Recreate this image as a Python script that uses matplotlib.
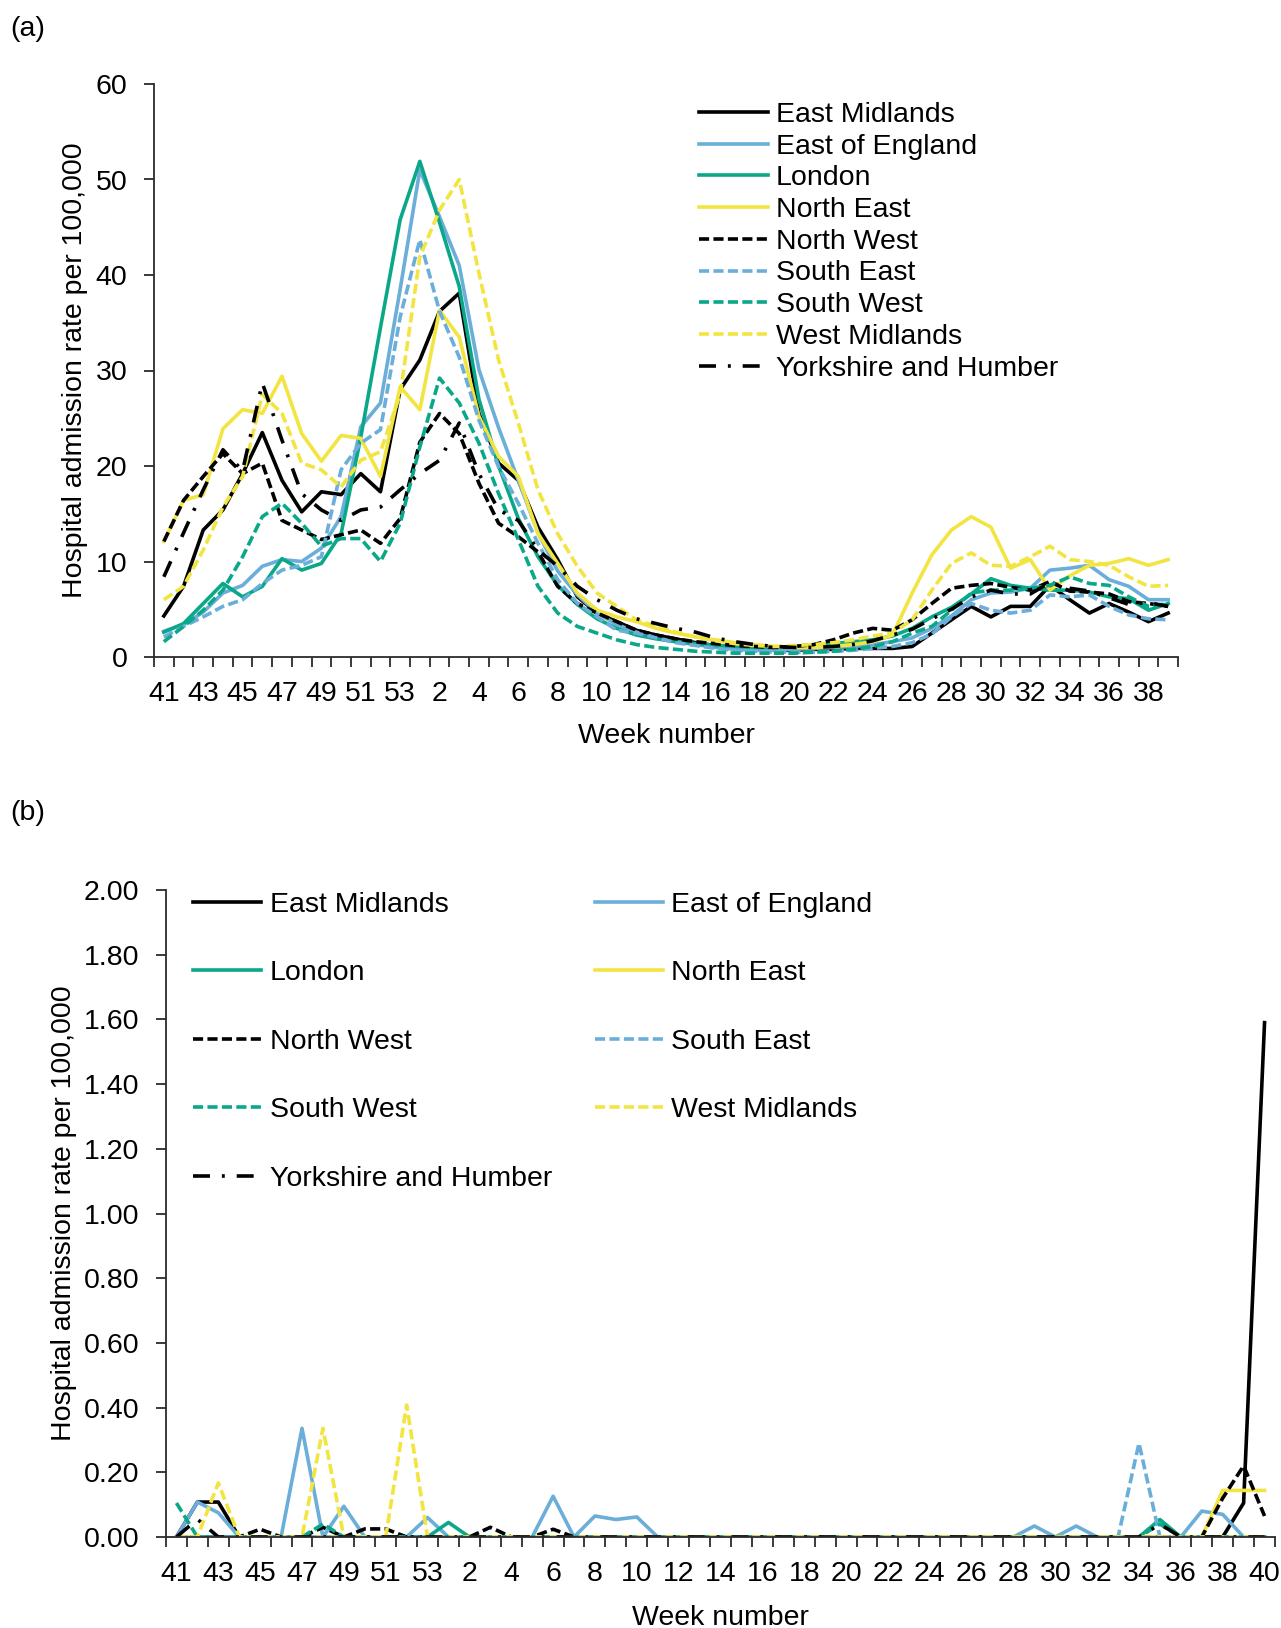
import numpy as np
import matplotlib
matplotlib.use("Agg")
import matplotlib.pyplot as plt

plt.rcParams['font.family'] = ['Liberation Sans', 'DejaVu Sans']
FS = 20.5

# week axis: 41..53 then 1..39 (a) / 1..40 (b)
weeks_a = list(range(41, 54)) + list(range(1, 40))
weeks_b = list(range(41, 54)) + list(range(1, 41))

regions = ['East Midlands', 'East of England', 'London', 'North East',
           'North West', 'South East', 'South West', 'West Midlands',
           'Yorkshire and Humber']

# (a) admission rate per 100,000
em_a = [4.3, 7.4, 13.3, 15.4, 19.2, 23.5, 18.5, 15.2, 17.3, 17.0, 19.2, 17.3, 28.0,
        31.1, 36.2, 38.1, 25.5, 20.3, 18.5, 13.6, 10.2, 6.3, 4.6, 3.7, 2.8,
        2.3, 1.9, 1.5, 1.2, 1.0, 0.8, 0.7, 0.7, 0.8, 0.8, 0.9, 0.9, 0.9,
        1.1, 2.5, 3.9, 5.3, 4.2, 5.3, 5.3, 7.5, 6.0, 4.6, 5.6, 4.7, 3.7, 4.6]
eoe_a = [2.7, 3.4, 4.7, 6.7, 7.5, 9.5, 10.2, 10.0, 11.4, 14.7, 24.1, 26.6, 38.5,
         51.0, 46.1, 41.0, 30.1, 24.0, 18.5, 13.0, 9.0, 6.5, 4.6, 3.4, 2.6,
         2.0, 1.6, 1.3, 1.0, 0.8, 0.7, 0.7, 0.8, 0.9, 1.0, 1.1, 1.3, 1.6,
         2.0, 3.0, 4.3, 6.0, 6.7, 6.8, 7.2, 9.1, 9.3, 9.6, 8.1, 7.4, 6.0, 6.0]
lon_a = [2.6, 3.5, 5.6, 7.7, 6.3, 7.4, 10.3, 9.1, 9.8, 12.9, 23.0, 34.5, 45.8,
         51.9, 45.5, 38.8, 27.0, 20.0, 14.5, 10.5, 7.5, 5.5, 4.0, 3.0, 2.3,
         1.9, 1.6, 1.4, 1.2, 1.1, 1.0, 1.0, 1.1, 1.2, 1.4, 1.6, 1.8, 2.2,
         3.0, 4.2, 5.2, 6.6, 8.2, 7.5, 7.2, 7.0, 7.0, 6.8, 6.3, 6.1, 4.9, 5.6]
ne_a = [12.1, 16.4, 17.0, 23.9, 25.9, 25.5, 29.4, 23.4, 20.5, 23.2, 22.9, 18.9, 28.3,
        25.9, 36.3, 33.5, 25.2, 21.0, 18.9, 12.9, 9.8, 6.7, 4.9, 4.2, 3.7,
        3.0, 2.5, 2.1, 1.8, 1.5, 1.3, 1.1, 1.0, 1.0, 1.1, 1.3, 1.6, 2.3,
        6.7, 10.7, 13.3, 14.7, 13.6, 9.3, 10.2, 7.0, 8.5, 9.6, 9.8, 10.3, 9.6, 10.2]
nw_a = [12.1, 16.4, 18.9, 21.3, 19.2, 20.3, 14.3, 13.3, 12.3, 12.8, 13.3, 11.9, 14.5,
        22.5, 25.5, 23.4, 18.2, 14.0, 12.6, 11.0, 7.4, 5.6, 4.6, 3.7, 2.8,
        2.3, 1.9, 1.6, 1.4, 1.2, 1.1, 1.0, 1.1, 1.3, 1.8, 2.5, 3.0, 2.8,
        3.9, 5.6, 7.2, 7.5, 7.7, 7.3, 7.0, 7.9, 6.9, 6.8, 6.6, 5.8, 5.6, 5.3]
se_a = [2.1, 3.2, 4.2, 5.3, 6.0, 7.7, 9.1, 9.6, 10.5, 19.6, 22.4, 23.8, 35.6,
        43.7, 36.2, 31.4, 24.8, 19.9, 16.1, 11.9, 8.1, 5.6, 4.2, 2.8, 2.5,
        2.0, 1.5, 1.2, 0.9, 0.7, 0.6, 0.5, 0.5, 0.5, 0.6, 0.7, 0.9, 1.1,
        1.5, 2.4, 4.2, 5.6, 4.9, 4.6, 4.9, 6.5, 6.3, 6.5, 5.3, 4.4, 4.0, 3.9]
sw_a = [1.6, 3.2, 4.9, 7.0, 10.5, 14.7, 16.1, 14.0, 11.6, 12.4, 12.4, 10.0, 14.0,
        22.0, 29.2, 26.6, 22.4, 17.1, 12.3, 7.4, 4.6, 3.2, 2.5, 1.8, 1.3,
        1.0, 0.8, 0.6, 0.5, 0.4, 0.4, 0.4, 0.4, 0.5, 0.6, 0.8, 1.1, 1.6,
        2.5, 3.2, 4.9, 6.7, 7.0, 7.0, 7.2, 7.5, 8.4, 7.7, 7.5, 6.3, 5.3, 5.6]
wm_a = [6.0, 7.4, 11.2, 15.7, 18.9, 27.5, 25.5, 20.3, 19.6, 17.8, 20.6, 21.5, 27.5,
        41.9, 46.8, 50.0, 40.2, 31.1, 24.5, 17.5, 12.9, 9.5, 6.7, 5.3, 3.9,
        3.2, 2.6, 2.1, 1.7, 1.4, 1.2, 1.1, 1.2, 1.3, 1.5, 1.8, 2.2, 2.5,
        3.9, 7.0, 9.8, 10.9, 9.6, 9.5, 10.5, 11.6, 10.2, 10.0, 9.6, 8.4, 7.4, 7.5]
yh_a = [8.4, 13.0, 17.5, 21.7, 19.5, 28.7, 22.7, 17.1, 15.4, 14.3, 15.4, 15.7, 17.5,
        19.2, 20.6, 24.5, 19.2, 15.4, 14.3, 11.2, 9.5, 7.4, 6.0, 4.9, 4.0,
        3.5, 3.0, 2.6, 2.0, 1.6, 1.3, 1.1, 1.0, 1.0, 1.1, 1.3, 1.7, 2.3,
        2.9, 4.0, 5.0, 6.3, 7.0, 6.6, 6.6, 7.8, 7.2, 6.9, 6.2, 5.5, 5.7, 5.3]

# (b) sparse weekly values, {week index: rate}
em_b = {1: 0.108, 2: 0.108, 51: 0.105, 52: 1.59}
eoe_b = {1: 0.108, 2: 0.075, 6: 0.336, 8: 0.095, 12: 0.06, 18: 0.126, 20: 0.065,
         21: 0.054, 22: 0.062, 41: 0.034, 43: 0.034, 49: 0.08, 50: 0.07}
lon_b = {13: 0.045, 47: 0.054}
ne_b = {50: 0.144, 51: 0.144, 52: 0.144}
nw_b = {4: 0.024, 7: 0.03, 9: 0.025, 10: 0.025, 15: 0.03, 18: 0.024,
        50: 0.12, 51: 0.22, 52: 0.065}
se_b = {46: 0.29}
sw_b = {0: 0.105, 7: 0.04, 47: 0.04}
wm_b = {2: 0.167, 7: 0.336, 11: 0.408}
yh_b = {1: 0.055, 47: 0.04}

BLACK, BLUE, GREEN, YELLOW = '#000000', '#6BAED9', '#0AA889', '#F2E542'
LW = 2.6
DASH = (0, (2.8, 1.2))
DASHDOT = (0, (4.7, 3.3, 0.8, 3.3))
styles = [(BLACK, '-'), (BLUE, '-'), (GREEN, '-'), (YELLOW, '-'),
          (BLACK, DASH), (BLUE, DASH), (GREEN, DASH), (YELLOW, DASH),
          (BLACK, DASHDOT)]

series_a = [em_a, eoe_a, lon_a, ne_a, nw_a, se_a, sw_a, wm_a, yh_a]
series_b = [em_b, eoe_b, lon_b, ne_b, nw_b, se_b, sw_b, wm_b, yh_b]

W, H = 1281, 1628
fig = plt.figure(figsize=(W / 100, H / 100), dpi=100)


def frac(l, t, r, b):
    return [l / W, 1 - b / H, (r - l) / W, (b - t) / H]


def style_axis(ax, weeks):
    n = len(weeks)
    ax.set_xlim(0, n)
    for s in ('top', 'right'):
        ax.spines[s].set_visible(False)
    for s in ('left', 'bottom'):
        ax.spines[s].set_color('#2b2b2b')
        ax.spines[s].set_linewidth(1.3)
    ax.set_xticks(np.arange(n + 1))
    ax.set_xticklabels([])
    ax.set_xticks(np.arange(0, n, 2) + 0.5, minor=True)
    ax.set_xticklabels([str(w) for w in weeks[::2]], minor=True)
    ax.tick_params(axis='x', which='major', length=7, width=1.3, color='#2b2b2b',
                   direction='out')
    ax.tick_params(axis='x', which='minor', length=0, pad=17, labelsize=FS)
    ax.tick_params(axis='y', length=7, width=1.3, color='#2b2b2b', direction='out',
                   pad=12, labelsize=FS)
    ax.set_xlabel('Week number', fontsize=FS)


# panel (a)
ax1 = fig.add_axes(frac(154, 84, 1178, 657))
x_a = np.arange(len(weeks_a)) + 0.5
for name, vals, (c, ls) in zip(regions, series_a, styles):
    ax1.plot(x_a, vals, color=c, ls=ls, lw=LW, label=name)
style_axis(ax1, weeks_a)
ax1.set_ylim(0, 60)
ax1.set_yticks(np.arange(0, 61, 10))
ax1.set_ylabel('Hospital admission rate per 100,000', fontsize=FS)
ax1.yaxis.set_label_coords(-0.064, 0.5)
ax1.xaxis.set_label_coords(0.5, -0.116)
ax1.legend(loc='upper left', bbox_to_anchor=(699 / W, 1 - 102 / H),
           bbox_transform=fig.transFigure, frameon=False, fontsize=FS,
           borderpad=0, borderaxespad=0, labelspacing=0.2,
           handlelength=2.42, handletextpad=0.28)

# panel (b)
ax2 = fig.add_axes(frac(166, 890, 1275, 1537))
x_b = np.arange(len(weeks_b)) + 0.5
lines_b = []
for name, pts, (c, ls) in zip(regions, series_b, styles):
    vals = np.zeros(len(weeks_b))
    for k, v in pts.items():
        vals[k] = v
    ln, = ax2.plot(x_b, vals, color=c, ls=ls, lw=LW, label=name)
    lines_b.append(ln)
style_axis(ax2, weeks_b)
ax2.set_ylim(0, 2.0)
ax2.set_yticks(np.arange(0, 2.01, 0.2))
ax2.set_yticklabels([f'{v:.2f}' for v in np.arange(0, 2.01, 0.2)])
ax2.set_ylabel('Hospital admission rate per 100,000', fontsize=FS)
ax2.yaxis.set_label_coords(-0.0806, 0.5)
ax2.xaxis.set_label_coords(0.5, -0.105)
# legend filled row by row: reorder for matplotlib's column-wise fill
order = [0, 2, 4, 6, 8, 1, 3, 5, 7]
ax2.legend([lines_b[i] for i in order], [regions[i] for i in order],
           loc='upper left', bbox_to_anchor=(193 / W, 1 - 892 / H),
           bbox_transform=fig.transFigure, frameon=False, fontsize=FS, ncol=2,
           borderpad=0, borderaxespad=0, labelspacing=1.49,
           handlelength=2.4, handletextpad=0.29, columnspacing=1.5)

fig.text(10 / W, 1 - 29 / H, '(a)', fontsize=FS, va='center', ha='left')
fig.text(10 / W, 1 - 813 / H, '(b)', fontsize=FS, va='center', ha='left')

fig.savefig('out.png', dpi=100)
